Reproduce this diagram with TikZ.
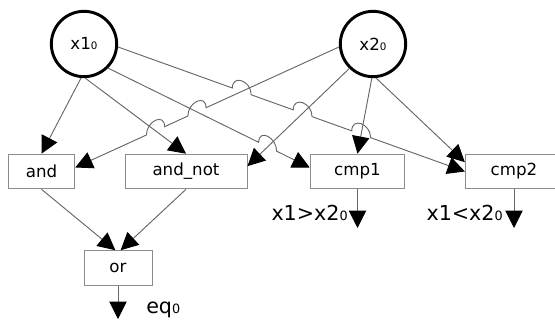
\documentclass[tikz,border=0pt]{standalone}
\usepackage{fontspec}
\setmainfont{DejaVu Sans}
\usetikzlibrary{arrows.meta,calc,intersections}

\newcommand{\pzero}{\scalebox{0.62}{0}}
\def\hop{7.5pt}

\tikzset{
  var/.style={draw, circle, line width=2.2pt, minimum size=49pt, inner sep=0pt, font=\fontsize{12.5}{15}\selectfont},
  gate/.style={draw=black!45, line width=0.7pt, rectangle, minimum height=26pt, inner sep=0pt, font=\fontsize{12.5}{15}\selectfont},
  wire/.style={draw=black!60, line width=0.7pt, -{Triangle[length=13pt,width=13pt,color=black]}},
  outlbl/.style={font=\fontsize{15.5}{18}\selectfont, inner sep=0pt},
  jump/.style={out=90, in=90, looseness=1.8}
}

\begin{document}
\begin{tikzpicture}[x=0.75pt,y=0.75pt]
  \useasboundingbox (0,0) rectangle (555,320);

  %%%%% Inputs %%%%%
  \node[var] (x1) at (84,276) {x1\pzero};
  \node[var] (x2) at (373,276) {x2\pzero};

  %%%%% Gates %%%%%
  \node[gate, minimum width=50pt] (and) at (41.5,148.5) {and};
  \node[gate, minimum width=91.5pt] (andnot) at (186,148.5) {and\_not};
  \node[gate, minimum width=71pt] (cmp1) at (357.5,148.5) {cmp1};
  \node[gate, minimum width=73pt] (cmp2) at (514,148.5) {cmp2};
  \node[gate, minimum width=51pt] (or) at (118,52) {or};

  %%%%% Wire ends %%%%%
  \coordinate (andin) at ([yshift=3pt]and.east);
  \coordinate (andnotin) at ([yshift=4pt]andnot.east);
  \coordinate (cmp1in) at ([yshift=3pt]cmp1.west);
  \coordinate (cmp2in) at ([yshift=7pt]cmp2.west);

  %%%%% Crossings %%%%%
  \path[name path=w2] (x1.-88) -- (andnot.north);
  \path[name path=w3] (x1.-45) -- (cmp1in);
  \path[name path=w4] (x1.-5) -- (cmp2.west);
  \path[name path=w5] (x2.185) -- (andin);
  \path[name path=w6] (x2.226) -- (andnotin);
  \path[name path=w7] (x2.-92) -- (cmp1.north);
  \path[name intersections={of=w4 and w5, by=c45}];
  \path[name intersections={of=w4 and w6, by=c46}];
  \path[name intersections={of=w4 and w7, by=c47}];
  \path[name intersections={of=w5 and w3, by=c53}];
  \path[name intersections={of=w5 and w2, by=c52}];
  \path[name intersections={of=w3 and w6, by=c36}];

  %%%%% Wires from x1 %%%%%
  \draw[wire] (x1.-95) -- (and.north);
  \draw[wire] (x1.-88) -- (andnot.north);
  \draw[wire] (x1.-45) -- ($(c36)!\hop!(x1.-45)$) to[jump] ($(c36)!\hop!(cmp1in)$) -- (cmp1in);
  \draw[wire] (x1.-5) -- ($(c45)!\hop!(x1.-5)$) to[jump] ($(c45)!\hop!(cmp2.west)$)
    -- ($(c46)!\hop!(x1.-5)$) to[jump] ($(c46)!\hop!(cmp2.west)$)
    -- ($(c47)!\hop!(x1.-5)$) to[jump] ($(c47)!\hop!(cmp2.west)$) -- (cmp2.west);

  %%%%% Wires from x2 %%%%%
  \draw[wire] (x2.185) -- ($(c53)!\hop!(x2.185)$) to[jump] ($(c53)!\hop!(andin)$)
    -- ($(c52)!\hop!(x2.185)$) to[jump] ($(c52)!\hop!(andin)$) -- (andin);
  \draw[wire] (x2.226) -- (andnotin);
  \draw[wire] (x2.-92) -- (cmp1.north);
  \draw[wire] (x2.-85) -- (cmp2in);

  %%%%% Into or %%%%%
  \draw[wire] (and.south) -- ([xshift=-2pt]or.north);
  \draw[wire] (andnot.south) -- ([xshift=2pt]or.north);

  %%%%% Outputs %%%%%
  \coordinate (eqout) at (118,1);
  \coordinate (gtout) at (357.5,92);
  \coordinate (ltout) at (514,92);
  \draw[wire] (or.south) -- (eqout);
  \draw[wire] (cmp1.south) -- (gtout);
  \draw[wire] (cmp2.south) -- (ltout);
  \node[outlbl, anchor=base west] (eq) at (146,6) {eq\pzero};
  \node[outlbl, anchor=base east] (gt) at (348,99) {x1>x2\pzero};
  \node[outlbl, anchor=base east] (lt) at (503,99) {x1<x2\pzero};
\end{tikzpicture}
\end{document}
